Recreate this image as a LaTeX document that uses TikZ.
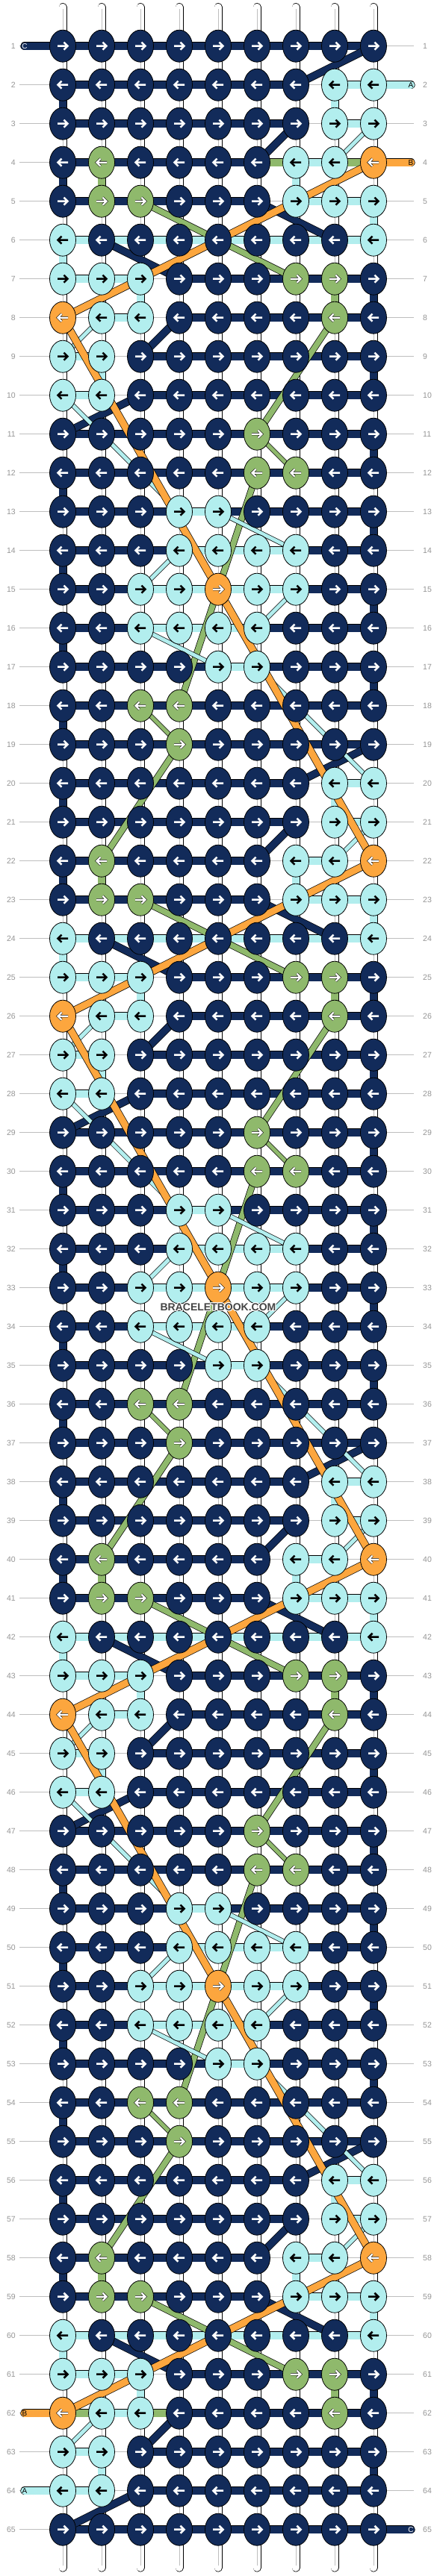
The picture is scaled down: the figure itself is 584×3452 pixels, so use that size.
\documentclass[tikz,border=0pt]{standalone}
\usepackage{fontspec}
\usetikzlibrary{shapes.geometric}
\newfontfamily\labfont{Liberation Sans}
\definecolor{cN}{RGB}{18,43,90}
\definecolor{cA}{RGB}{178,238,238}
\definecolor{cG}{RGB}{143,185,108}
\definecolor{cB}{RGB}{252,166,62}
\definecolor{rowgray}{RGB}{150,150,150}
\definecolor{linegray}{RGB}{190,190,190}
\definecolor{wmgray}{RGB}{68,68,68}
\tikzset{
 seg/.style={draw=black, line width=0.7, double distance=10},
 vblk/.style={draw=black, line width=0.7, double distance=9.6},
 diag/.style={draw=black, line width=0.7},
 strng/.style={draw=black, line width=0.7, double=white, double distance=9.6, line cap=round},
 pill/.style={draw=black, line width=0.7, double distance=10, line cap=round},
 knotnode/.style={ellipse, draw=black, line width=0.8, minimum width=35, minimum height=43, inner sep=0},
 arwN/.style={draw=white, line width=2.5, line join=miter},
 arwA/.style={draw=black, line width=2.5, line join=miter},
 arwG/.style={draw=black, line width=0.6, double=white, double distance=2.2, line join=miter},
 arwB/.style={draw=black, line width=0.6, double=white, double distance=2.2, line join=miter},
 rowlab/.style={font=\labfont\fontsize{10.5}{12}\selectfont, text=rowgray, inner sep=0},
 pilltxt/.style={font=\labfont\fontsize{10}{12}\selectfont, inner sep=0},
 wmtxt/.style={font=\labfont\bfseries\fontsize{14}{16}\selectfont, inner sep=0},
}
\def\KnotRows{4/{N,G,N,N,N,N,A,A,B},
5/{N,G,G,N,N,N,A,A,A},
6/{A,N,N,N,N,N,N,N,A},
7/{A,A,A,N,N,N,G,G,N},
8/{B,A,A,N,N,N,N,G,N},
9/{A,A,N,N,N,N,N,N,N},
10/{A,A,N,N,N,N,N,N,N},
11/{N,N,N,N,N,G,N,N,N},
12/{N,N,N,N,N,G,G,N,N},
13/{N,N,N,A,A,N,N,N,N},
14/{N,N,N,A,A,A,A,N,N},
15/{N,N,A,A,B,A,A,N,N},
16/{N,N,A,A,A,A,N,N,N},
17/{N,N,N,N,A,A,N,N,N},
18/{N,N,G,G,N,N,N,N,N},
19/{N,N,N,G,N,N,N,N,N},
20/{N,N,N,N,N,N,N,A,A},
21/{N,N,N,N,N,N,N,A,A}}
\def\SegRows{4/{N,N,N,N,N,0,A,0},
5/{N,N,N,N,N,0,A,A},
6/{A,A,A,A,A,A,A,A},
7/{A,A,0,N,N,N,N,N},
8/{0,A,0,N,N,N,N,N},
9/{A,0,N,N,N,N,N,N},
10/{A,0,N,N,N,N,N,N},
11/{N,N,N,N,N,N,N,N},
12/{N,N,N,N,N,N,N,N},
13/{N,N,N,A,N,N,N,N},
14/{N,N,N,A,A,A,N,N},
15/{N,N,A,A,A,A,N,N},
16/{N,N,A,A,A,N,N,N},
17/{N,N,N,N,A,N,N,N},
18/{N,N,N,N,N,N,N,N},
19/{N,N,N,N,N,N,N,N},
20/{N,N,N,N,N,N,0,A},
21/{N,N,N,N,N,N,0,A}}
\def\VertRows{4/{1/N,2/G,7/A},
5/{9/A},
6/{1/A},
7/{3/A,8/G,9/N},
9/{2/A,9/N},
11/{9/N},
12/{1/N},
13/{9/N},
14/{1/N},
15/{9/N},
16/{1/N},
17/{9/N},
18/{1/N},
20/{1/N,8/A}}
\def\DiagList{19/9/20/7/N/9/1/65,
21/7/22/6/N/9/1/65,
5/6/6/8/N/9/1/65,
6/2/7/4/N/9/1/65,
8/4/9/3/N/9/1/65,
10/3/11/1/N/9/1/65,
5/3/7/7/G/7.5/4/61,
8/8/11/6/G/7.5/4/61,
11/6/12/7/G/5/4/61,
12/6/18/4/G/7.5/4/61,
18/3/19/4/G/5/4/61,
19/4/22/2/G/7.5/4/61,
21/9/22/8/A/5/1/65,
8/2/9/1/A/5/1/65,
10/1/13/4/A/5/1/65,
13/5/14/7/A/5/1/65,
14/4/15/3/A/5/1/65,
15/7/16/6/A/5/1/65,
16/3/17/5/A/5/1/65,
17/6/20/9/A/5/1/65,
4/9/8/1/B/9/1/65,
8/1/22/9/B/9/1/65}
\newcommand\drawknot[3]{%
  \node[knotnode, fill=c#3] (n-#1-#2) at (k-#1-#2) {};%
  \begin{scope}[shift={(k-#1-#2)}]%
  \ifodd#1 \draw[arw#3] (-7,0) -- (6.5,0) (1.5,-5) -- (6.5,0) -- (1.5,5);%
  \else \draw[arw#3] (7,0) -- (-6.5,0) (-1.5,-5) -- (-6.5,0) -- (-1.5,5);\fi
  \end{scope}}
\begin{document}
\begin{tikzpicture}[x=1pt,y=-1pt]
\fill[white] (0,0) rectangle (584,3452);
\useasboundingbox (0,0) rectangle (584,3452);
% knot centres
\foreach \rw in {1,...,65}{\foreach \cl in {1,...,9}{
  \coordinate (k-\rw-\cl) at ({84+52*(\cl-1)},{61.7+52*(\rw-1)});}}
% row lines and numbers
\foreach \rw in {1,...,65}{
  \pgfmathsetmacro\yy{61.7+52*(\rw-1)}
  \coordinate (gl-\rw) at (26,\yy);
  \coordinate (gr-\rw) at (554,\yy);
  \draw[linegray, line width=0.8] (gl-\rw) -- (gr-\rw);
  \node[rowlab, anchor=east] (ll-\rw) at (21,\yy) {\rw};
  \node[rowlab, anchor=west] (rl-\rw) at (566,\yy) {\rw};
}
% base strings
\foreach \cl in {1,...,9}{
  \pgfmathsetmacro\xx{84+52*(\cl-1)}
  \coordinate (st-\cl) at (\xx,9.5);
  \coordinate (sb-\cl) at (\xx,3441);
  \draw[strng] (st-\cl) -- (sb-\cl);
  \draw[linegray, line width=0.6] ([yshift=-3pt]st-\cl) -- ([yshift=3pt]sb-\cl);
}
% vertical thread pieces
\foreach \off in {-18,0,18,36,54}{
 \foreach \p/\lst in \VertRows{
  \pgfmathtruncatemacro\rw{\p+\off}
  \pgfmathtruncatemacro\rn{\rw+1}
  \ifnum\rw<1\relax\else\ifnum\rw>64\relax\else
   \foreach \cl/\kc in \lst{
     \draw[vblk, double=c\kc] (k-\rw-\cl) -- (k-\rn-\cl);
   }
  \fi\fi
 }
}
% horizontal thread pieces
\foreach \off in {-18,0,18,36,54}{
 \foreach \p/\lst in \SegRows{
  \pgfmathtruncatemacro\rw{\p+\off}
  \ifnum\rw<1\relax\else\ifnum\rw>65\relax\else
   \foreach \sc [count=\cl] in \lst{
     \if0\sc\else
       \pgfmathtruncatemacro\cc{\cl+1}
       \draw[seg, double=c\sc] (k-\rw-\cl) -- (k-\rw-\cc);
     \fi
   }
  \fi\fi
 }
}
\draw[seg, double=cG] (k-4-6) -- (k-4-7);
\draw[seg, double=cG] (k-4-8) -- (k-4-9);
\draw[seg, double=cG] (k-62-1) -- (k-62-2);
\draw[seg, double=cG] (k-62-3) -- (k-62-4);
% diagonal thread pieces
\foreach \ra/\ca/\rb/\cb/\kc/\ww/\lo/\hi in \DiagList{
  \foreach \off in {-18,0,18,36,54}{
    \pgfmathtruncatemacro\sa{\ra+\off}
    \pgfmathtruncatemacro\sb{\rb+\off}
    \ifnum\sa<\lo\relax\else\ifnum\sb>\hi\relax\else
      \draw[diag, double=c\kc, double distance=\ww] (k-\sa-\ca) -- (k-\sb-\cb);
    \fi\fi
  }
}
% thread ends
\coordinate (pC1) at (33,61.7);
\coordinate (pA2) at (550,113.7);
\coordinate (pB4) at (550,217.7);
\coordinate (pB62) at (33,3233.7);
\coordinate (pA64) at (33,3337.7);
\coordinate (pC65) at (550,3389.7);
\draw[pill, double=cN] (pC1) -- (k-1-1);
\draw[pill, double=cA] (k-2-9) -- (pA2);
\draw[pill, double=cB] (k-4-9) -- (pB4);
\draw[pill, double=cB] (pB62) -- (k-62-1);
\draw[pill, double=cA] (pA64) -- (k-64-1);
\draw[pill, double=cN] (k-65-9) -- (pC65);
\node[pilltxt, text=white] (tC1) at (pC1) {C};
\node[pilltxt, text=black] (tA2) at (pA2) {A};
\node[pilltxt, text=black] (tB4) at (pB4) {B};
\node[pilltxt, text=black] (tB62) at (pB62) {B};
\node[pilltxt, text=black] (tA64) at (pA64) {A};
\node[pilltxt, text=white] (tC65) at (pC65) {C};
% knots
\foreach \off in {-18,0,18,36,54}{
 \foreach \p/\lst in \KnotRows{
  \pgfmathtruncatemacro\rw{\p+\off}
  \ifnum\rw<2\relax\else\ifnum\rw>64\relax\else
   \foreach \kc [count=\cl] in \lst{\drawknot{\rw}{\cl}{\kc}}
  \fi\fi
 }
}
\foreach \rw in {1,65}{\foreach \cl in {1,...,9}{\drawknot{\rw}{\cl}{N}}}
% watermark
\foreach \dx/\dy [count=\i] in {-1/0,1/0,0/-1,0/1,-0.8/-0.8,0.8/0.8,-0.8/0.8,0.8/-0.8}{
  \node[wmtxt, text=white] (wmh\i) at (292+\dx,1751.7+\dy) {BRACELETBOOK.COM};}
\node[wmtxt, text=wmgray] (wm) at (292,1751.7) {BRACELETBOOK.COM};
\end{tikzpicture}
\end{document}
